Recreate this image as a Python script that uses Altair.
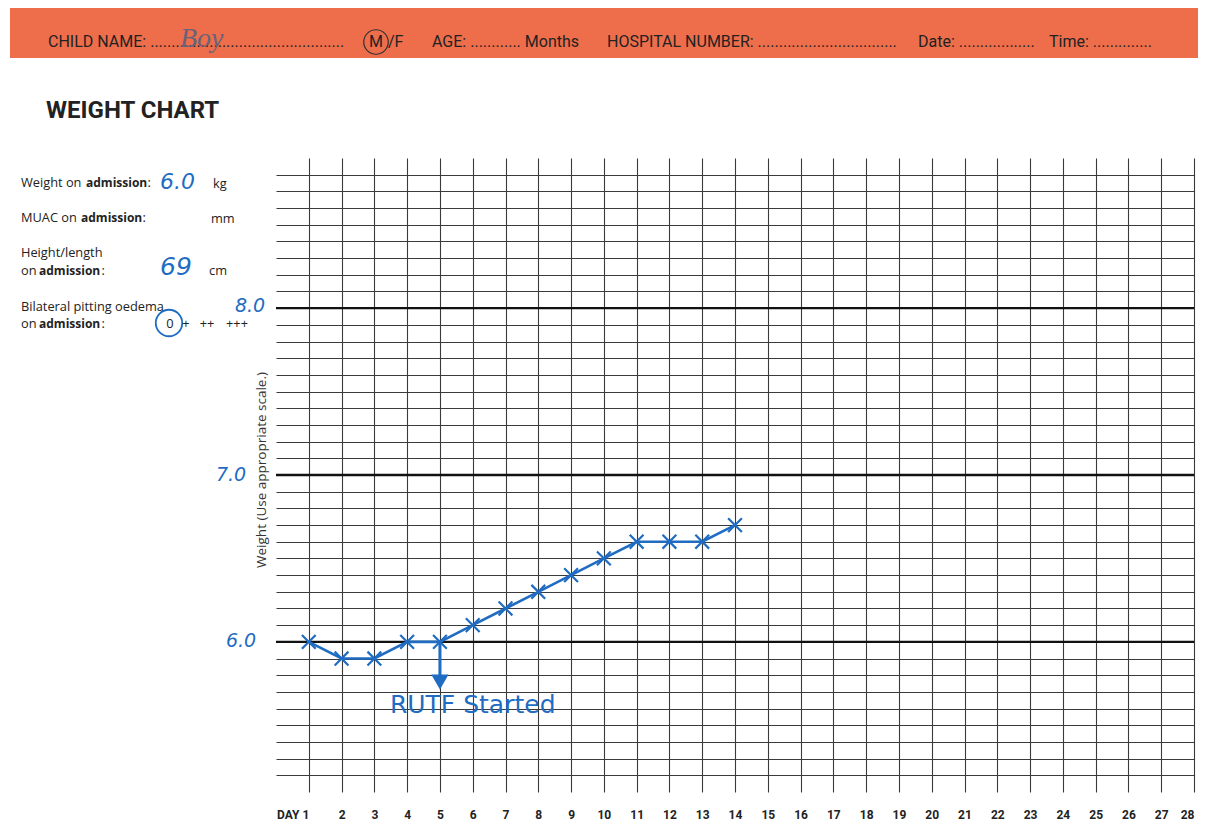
import altair as alt
import pandas as pd

# ---------------- data ----------------
days = [1, 2, 3, 4, 5, 6, 7, 8, 9, 10, 11, 12, 13, 14]
weights = [6.0, 5.9, 5.9, 6.0, 6.0, 6.1, 6.2, 6.3, 6.4, 6.5, 6.6, 6.6, 6.6, 6.7]
day_ticks = list(range(1, 29))
weight_ticks = [5.2, 5.3, 5.4, 5.5, 5.6, 5.7, 5.8, 5.9, 6.0, 6.1, 6.2, 6.3, 6.4,
                6.5, 6.6, 6.7, 6.8, 6.9, 7.0, 7.1, 7.2, 7.3, 7.4, 7.5, 7.6, 7.7,
                7.8, 7.9, 8.0, 8.1, 8.2, 8.3, 8.4, 8.5, 8.6, 8.7, 8.8]
major_weights = [8.0, 7.0, 6.0]
major_labels = ["8.0", "7.0", "6.0"]
rutf_day = [5]
rutf_from = [6.0]
rutf_to = [5.76]
rutf_label = ["RUTF Started"]
rutf_label_day = [6.0]
rutf_label_weight = [5.62]

# ---------------- layout / style ----------------
PX0, PY0 = 276, 158          # page position of plot origin
W, H = 918, 634
BLUE = "#1f6cc2"
INK = "#222222"
GRID = "#3a3a3a"
ORANGE = "#ee6e4b"
HEAD_FONT = "Roboto"
FORM_FONT = "Open Sans"
HAND_FONT = "DejaVu Sans"
FS = 12.8   # regular form text size

x_enc = alt.X("day:Q", scale=alt.Scale(domain=[0, 28], nice=False, zero=False),
              axis=alt.Axis(values=day_ticks, grid=True, gridColor=GRID, gridWidth=1.1,
                            domain=False, ticks=False, title=None,
                            labelExpr="datum.value == 1 ? 'DAY 1' : datum.label",
                            labelAlign={"condition": {"test": "datum.value == 1 || datum.value == 28",
                                                      "value": "right"},
                                        "value": "center"},
                            labelFont=HEAD_FONT, labelFontWeight="bold", labelFontSize=12,
                            labelColor=INK, labelPadding=17, labelFlush=False,
                            labelOverlap=False, labelBound=False))
y_enc = alt.Y("weight:Q", scale=alt.Scale(domain=[5.1, 8.9], nice=False, zero=False),
              axis=alt.Axis(values=weight_ticks, grid=True, gridColor=GRID, gridWidth=1.1,
                            domain=False, ticks=False, labels=False, title=None))


def one():
    return alt.InlineData(values=[{"k": 1}])


def txt(s, px, py, size=FS, weight="normal", color=INK, font=FORM_FONT,
        align="left", style="normal", angle=0):
    return alt.Chart(alt.InlineData(values=[{"t": s}])).mark_text(
        align=align, baseline="middle", fontSize=size, fontWeight=weight,
        color=color, font=font, fontStyle=style, angle=angle
    ).encode(x=alt.value(px - PX0), y=alt.value(py - PY0), text="t:N")


def ring(px, py, size, color, sw=1.4):
    return alt.Chart(one()).mark_point(shape="circle", filled=False, size=size,
                                       strokeWidth=sw, color=color, opacity=1
    ).encode(x=alt.value(px - PX0), y=alt.value(py - PY0))


layers = []

# header band
layers.append(alt.Chart(one()).mark_rect(color=ORANGE).encode(
    x=alt.value(10 - PX0), x2=alt.value(1206 - PX0),
    y=alt.value(6 - PY0), y2=alt.value(58 - PY0)))
HY = 42
HS = 16
layers += [
    txt("CHILD NAME: " + "." * 46, 48, HY, HS, font=HEAD_FONT),
    txt("Boy", 180, HY - 3, 28, color="#6a6278", font="Liberation Serif", style="italic"),
    txt("M", 376, HY, HS, font=HEAD_FONT, align="center"),
    ring(376, HY, 600, "#333333", 1.2),
    txt("/F", 388, HY, HS, font=HEAD_FONT),
    txt("AGE: " + "." * 12 + " Months", 432, HY, HS, font=HEAD_FONT),
    txt("HOSPITAL NUMBER: " + "." * 33, 607, HY, HS, font=HEAD_FONT),
    txt("Date: " + "." * 18, 918, HY, HS, font=HEAD_FONT),
    txt("Time: " + "." * 14, 1049, HY, HS, font=HEAD_FONT),
    txt("WEIGHT CHART", 46, 111, 24, weight="bold", font=HEAD_FONT),
]

# form at left
layers += [
    txt("Weight on", 21, 183), txt("admission", 86, 183, 12, weight="bold"), txt(":", 147.5, 183),
    txt("6.0", 160, 182, 22, color=BLUE, font=HAND_FONT, style="italic"), txt("kg", 213, 184),
    txt("MUAC on", 21, 218), txt("admission", 81, 218, 12, weight="bold"), txt(":", 142.5, 218),
    txt("mm", 211, 219),
    txt("Height/length", 21, 253),
    txt("on", 21, 271), txt("admission", 39, 271, 12, weight="bold"), txt(":", 101.5, 271),
    txt("69", 160, 267, 25, color=BLUE, font=HAND_FONT, style="italic"), txt("cm", 209, 271),
    txt("Bilateral pitting oedema", 21, 307),
    txt("on", 21, 324), txt("admission", 39, 324, 12, weight="bold"), txt(":", 101.5, 324),
    txt("0", 170, 324, align="center"), ring(169, 323, 700, BLUE, 1.8),
    txt("+", 186, 324, align="center"), txt("++", 207, 324, align="center"),
    txt("+++", 237, 324, align="center"),
    txt("Weight (Use appropriate scale.)", 262, 470, 13.5, color="#333333", align="center", angle=270),
]

# thick major lines
major_df = pd.DataFrame({"weight": major_weights, "label": major_labels})
layers.append(alt.Chart(major_df).mark_rule(color="#111111", strokeWidth=2.3).encode(y=y_enc))

# handwritten major labels
label_x = {"8.0": 250, "7.0": 231, "6.0": 241}
label_dy = {"8.0": -2, "7.0": 0, "6.0": -1}
for lab in major_labels:
    layers.append(alt.Chart(major_df).transform_filter(alt.datum.label == lab).mark_text(
        font=HAND_FONT, fontSize=19, fontStyle="italic", color=BLUE, align="center",
        baseline="middle", dy=label_dy[lab]
    ).encode(x=alt.value(label_x[lab] - PX0), y=y_enc, text="label:N"))

# weight series
df = pd.DataFrame({"day": days, "weight": weights})
layers.append(alt.Chart(df).mark_line(color=BLUE, strokeWidth=2.6).encode(x=x_enc, y=y_enc))
layers.append(alt.Chart(df).mark_point(shape="M-1,-1L1,1M-1,1L1,-1", filled=False, size=190,
                                       strokeWidth=2.2, color=BLUE, opacity=1
                                       ).encode(x=x_enc, y=y_enc))

# RUTF arrow
arrow_df = pd.DataFrame({"day": rutf_day, "weight": rutf_from, "weight2": rutf_to})
layers.append(alt.Chart(arrow_df).mark_rule(color=BLUE, strokeWidth=3).encode(
    x=x_enc, y=y_enc, y2="weight2:Q"))
head_df = pd.DataFrame({"day": rutf_day, "weight": rutf_to})
layers.append(alt.Chart(head_df).mark_point(shape="triangle-down", filled=True, size=300,
                                            color=BLUE, opacity=1).encode(x=x_enc, y=y_enc))
lab_df = pd.DataFrame({"day": rutf_label_day, "weight": rutf_label_weight, "t": rutf_label})
layers.append(alt.Chart(lab_df).mark_text(font=HAND_FONT, fontSize=25, color=BLUE,
                                          align="center", baseline="middle"
                                          ).encode(x=x_enc, y=y_enc, text="t:N"))

chart = alt.layer(*layers).properties(
    width=W, height=H,
    autosize=alt.AutoSizeParams(type="none"),
    padding={"left": 268, "top": 150, "right": 4, "bottom": 30},
    background="white",
).configure_view(stroke=None)

chart.save("out.html", embed_options={"renderer": "svg", "actions": False})
